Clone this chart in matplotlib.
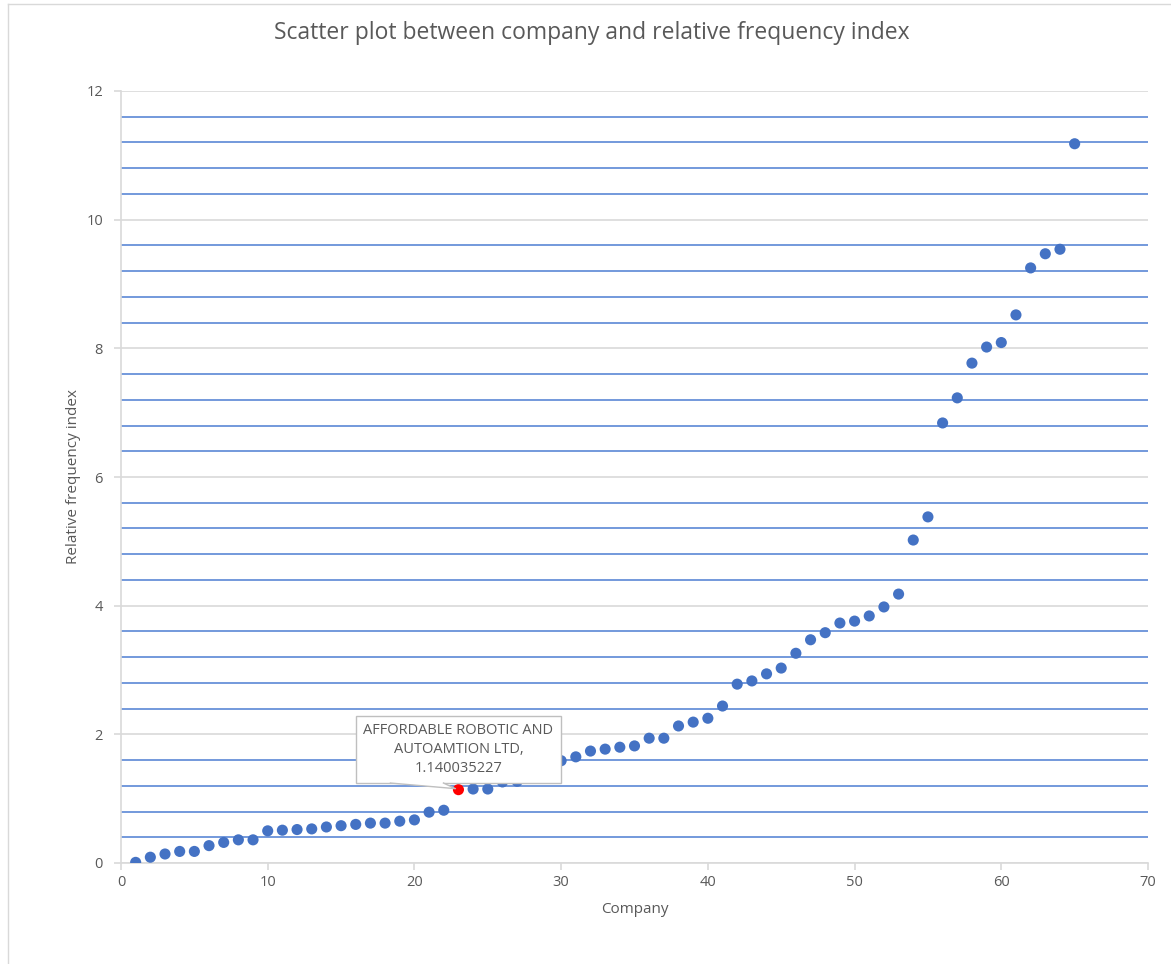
import matplotlib
matplotlib.use("Agg")
import matplotlib.pyplot as plt
from matplotlib.ticker import MultipleLocator
from matplotlib.lines import Line2D
from matplotlib.patches import Polygon

plt.rcParams['font.family'] = ['Open Sans', 'DejaVu Sans']

company = list(range(1, 66))
rfi = [0.01, 0.09, 0.14, 0.18, 0.18, 0.27, 0.32, 0.36, 0.36, 0.50,
       0.51, 0.52, 0.53, 0.56, 0.58, 0.60, 0.62, 0.62, 0.65, 0.67,
       0.79, 0.82, 1.140035227, 1.15, 1.15, 1.26, 1.27, 1.32, 1.45, 1.59,
       1.65, 1.74, 1.77, 1.80, 1.82, 1.94, 1.94, 2.13, 2.19, 2.25,
       2.44, 2.78, 2.83, 2.94, 3.03, 3.26, 3.47, 3.58, 3.73, 3.76,
       3.84, 3.98, 4.18, 5.02, 5.38, 6.84, 7.23, 7.77, 8.02, 8.09,
       8.52, 9.25, 9.47, 9.54, 11.18]
highlight_idx = 22
highlight_label = "AFFORDABLE ROBOTIC AND\nAUTOAMTION LTD,\n1.140035227"

title = "Scatter plot between company and relative frequency index"
xlabel = "Company"
ylabel = "Relative frequency index"

fig = plt.figure(figsize=(11.71, 9.64), dpi=100)
ax = fig.add_axes([121/1171, 1 - 863/964, (1148 - 121)/1171, (863 - 91)/964])

gray = '#595959'
ax.set_xlim(0, 70)
ax.set_ylim(0, 12)
ax.xaxis.set_major_locator(MultipleLocator(10))
ax.yaxis.set_major_locator(MultipleLocator(2))
ax.yaxis.set_minor_locator(MultipleLocator(0.4))
ax.grid(which='major', axis='y', color='#D9D9D9', linewidth=1.2, zorder=0)
ax.grid(which='minor', axis='y', color='#5B87D6', linewidth=1.2, zorder=0)
ax.set_axisbelow(True)

for s in ['top', 'right']:
    ax.spines[s].set_visible(False)
for s in ['left', 'bottom']:
    ax.spines[s].set_color('#D9D9D9')
    ax.spines[s].set_linewidth(1.2)

ax.tick_params(axis='both', which='major', colors='#D9D9D9', labelcolor=gray,
               labelsize=10.5, length=5, width=1.2, direction='out')
ax.tick_params(axis='y', which='minor', length=0)
ax.tick_params(axis='y', pad=8)
ax.tick_params(axis='x', pad=4)

colors = ['#4472C4'] * len(company)
colors[highlight_idx] = '#FF0000'
ax.scatter(company, rfi, s=64, c=colors, zorder=3, linewidths=0)

fig.text(592/1171, 1 - 33/964, title, fontsize=16.5, color=gray, ha='center', va='center')
ax.set_xlabel(xlabel, fontsize=11, color=gray, labelpad=8)
ax.set_ylabel(ylabel, fontsize=11, color=gray, labelpad=4)

# callout
hx, hy = company[highlight_idx], rfi[highlight_idx]
ann = ax.annotate(highlight_label, xy=(hx, hy), xytext=(0, 29), textcoords='offset points',
                  ha='center', va='center', fontsize=10.5, color=gray, linespacing=1.35,
                  bbox=dict(boxstyle='square,pad=0.5', fc='white', ec='#BFBFBF', lw=1),
                  zorder=5)
fig.canvas.draw()
bb = ann.get_bbox_patch().get_window_extent()
px, py = ax.transData.transform((hx, hy))
inv = ax.transData.inverted()
yb = bb.y0
p1 = inv.transform((px - 68, yb))
p2 = inv.transform((px - 15, yb))
p3 = inv.transform((px - 3, py + 1))
p1u = inv.transform((px - 67, yb + 1.5))
p2u = inv.transform((px - 16, yb + 1.5))
ax.add_patch(Polygon([p1u, p1, p3, p2, p2u], closed=True, fc='white', ec='none', zorder=6, clip_on=False))
ax.add_line(Line2D([p1[0], p3[0], p2[0]], [p1[1], p3[1], p2[1]], color='#BFBFBF', lw=1, zorder=7))

# chart area border (left and top)
fig.add_artist(Line2D([8/1171, 8/1171], [0, 1 - 4/964], color='#D9D9D9', lw=1, transform=fig.transFigure))
fig.add_artist(Line2D([8/1171, 1], [1 - 4/964, 1 - 4/964], color='#D9D9D9', lw=1, transform=fig.transFigure))

fig.savefig('out.png', dpi=100)
